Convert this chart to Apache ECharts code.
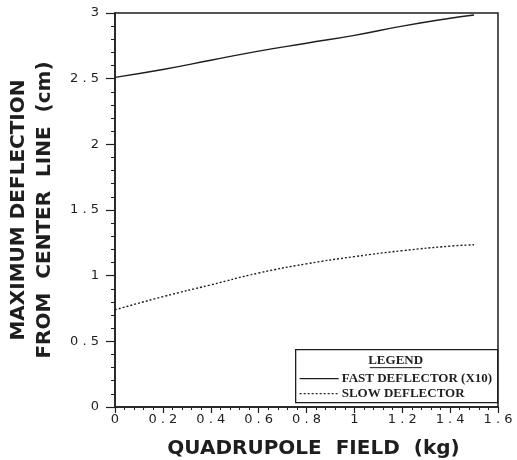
<!DOCTYPE html>
<html lang="en">
<head>
    <meta charset="UTF-8">
    <title>Quadrupole field</title>
    <script src="https://cdn.jsdelivr.net/npm/echarts@6.0.0/dist/echarts.min.js"></script>
    <style>
        html, body { margin: 0; padding: 0; background: #fff; }
    </style>
</head>
<body>
<div id="echart" style="width: 517px; height: 460px;"></div>
<script>
    // values
    const fieldKg = [0, 0.2, 0.4, 0.6, 0.8, 1.0, 1.2, 1.4, 1.5];
    const fastDefl = [2.51, 2.57, 2.64, 2.71, 2.77, 2.83, 2.90, 2.96, 2.985];
    const slowDefl = [0.74, 0.84, 0.93, 1.02, 1.09, 1.145, 1.19, 1.225, 1.235];
    const legendNames = ['FAST DEFLECTOR (X10)', 'SLOW DEFLECTOR'];

    const ink = '#1e1e1e';
    const sans = '"DejaVu Sans", Arial, sans-serif';
    const tickFont = { color: ink, fontSize: 13, fontFamily: sans };
    const nameFont = { color: ink, fontSize: 20, fontFamily: sans, fontWeight: 'bold' };
    const legendFont = 'bold 13px "Liberation Serif", serif';
    const spaced = v => String(v).replace('.', ' . ');

    const myChart = echarts.init(document.getElementById('echart'));

    myChart.setOption({
        animation: false,
        grid: {
            left: 115, right: 19, top: 13, bottom: 53,
            outerBoundsMode: 'none',
            show: true, borderColor: ink, borderWidth: 1.5
        },
        xAxis: {
            type: 'value', min: 0, max: 1.6, interval: 0.2,
            name: 'QUADRUPOLE  FIELD  (kg)',
            nameLocation: 'middle', nameGap: 32,
            nameTextStyle: Object.assign({ padding: [0, 0, 0, 14] }, nameFont),
            axisLine: { lineStyle: { color: ink, width: 1.5 } },
            axisTick: { length: 6, lineStyle: { color: ink, width: 1.2 } },
            minorTick: { show: true, splitNumber: 5, length: 3, lineStyle: { color: ink, width: 1 } },
            splitLine: { show: false },
            axisLabel: Object.assign({ margin: 6, formatter: spaced }, tickFont)
        },
        yAxis: {
            type: 'value', min: 0, max: 3, interval: 0.5,
            name: 'MAXIMUM DEFLECTION\nFROM  CENTER  LINE  (cm)',
            nameLocation: 'middle', nameGap: 57, nameRotate: 90,
            nameTextStyle: Object.assign({ lineHeight: 26 }, nameFont),
            axisLine: { lineStyle: { color: ink, width: 1.5 } },
            axisTick: { length: 9, lineStyle: { color: ink, width: 1.2 } },
            minorTick: { show: true, splitNumber: 5, length: 4, lineStyle: { color: ink, width: 1 } },
            splitLine: { show: false },
            axisLabel: Object.assign({ margin: 16, formatter: spaced }, tickFont)
        },
        series: [
            {
                name: legendNames[0], type: 'line', smooth: true, symbol: 'none',
                data: fieldKg.map((x, i) => [x, fastDefl[i]]),
                lineStyle: { color: ink, width: 1.4, type: 'solid' }
            },
            {
                name: legendNames[1], type: 'line', smooth: true, symbol: 'none',
                data: fieldKg.map((x, i) => [x, slowDefl[i]]),
                lineStyle: { color: ink, width: 1.4, type: [2, 2] }
            }
        ],
        graphic: [
            {
                type: 'group', left: 295, top: 349,
                children: [
                    { type: 'rect', shape: { x: 0, y: 0, width: 202, height: 53 },
                      style: { fill: '#fff', stroke: ink, lineWidth: 1.3 } },
                    { type: 'text', x: 100, y: 4,
                      style: { text: 'LEGEND', align: 'center', fill: ink, font: legendFont } },
                    { type: 'line', shape: { x1: 74, y1: 18, x2: 126, y2: 18 },
                      style: { stroke: ink, lineWidth: 1 } },
                    { type: 'line', shape: { x1: 4, y1: 29, x2: 43, y2: 29 },
                      style: { stroke: ink, lineWidth: 1.2 } },
                    { type: 'text', x: 46, y: 22,
                      style: { text: legendNames[0], fill: ink, font: legendFont } },
                    { type: 'line', shape: { x1: 4, y1: 44, x2: 43, y2: 44 },
                      style: { stroke: ink, lineWidth: 1.2, lineDash: [2, 2] } },
                    { type: 'text', x: 46, y: 37,
                      style: { text: legendNames[1], fill: ink, font: legendFont } }
                ]
            }
        ]
    });
</script>
</body>
</html>
